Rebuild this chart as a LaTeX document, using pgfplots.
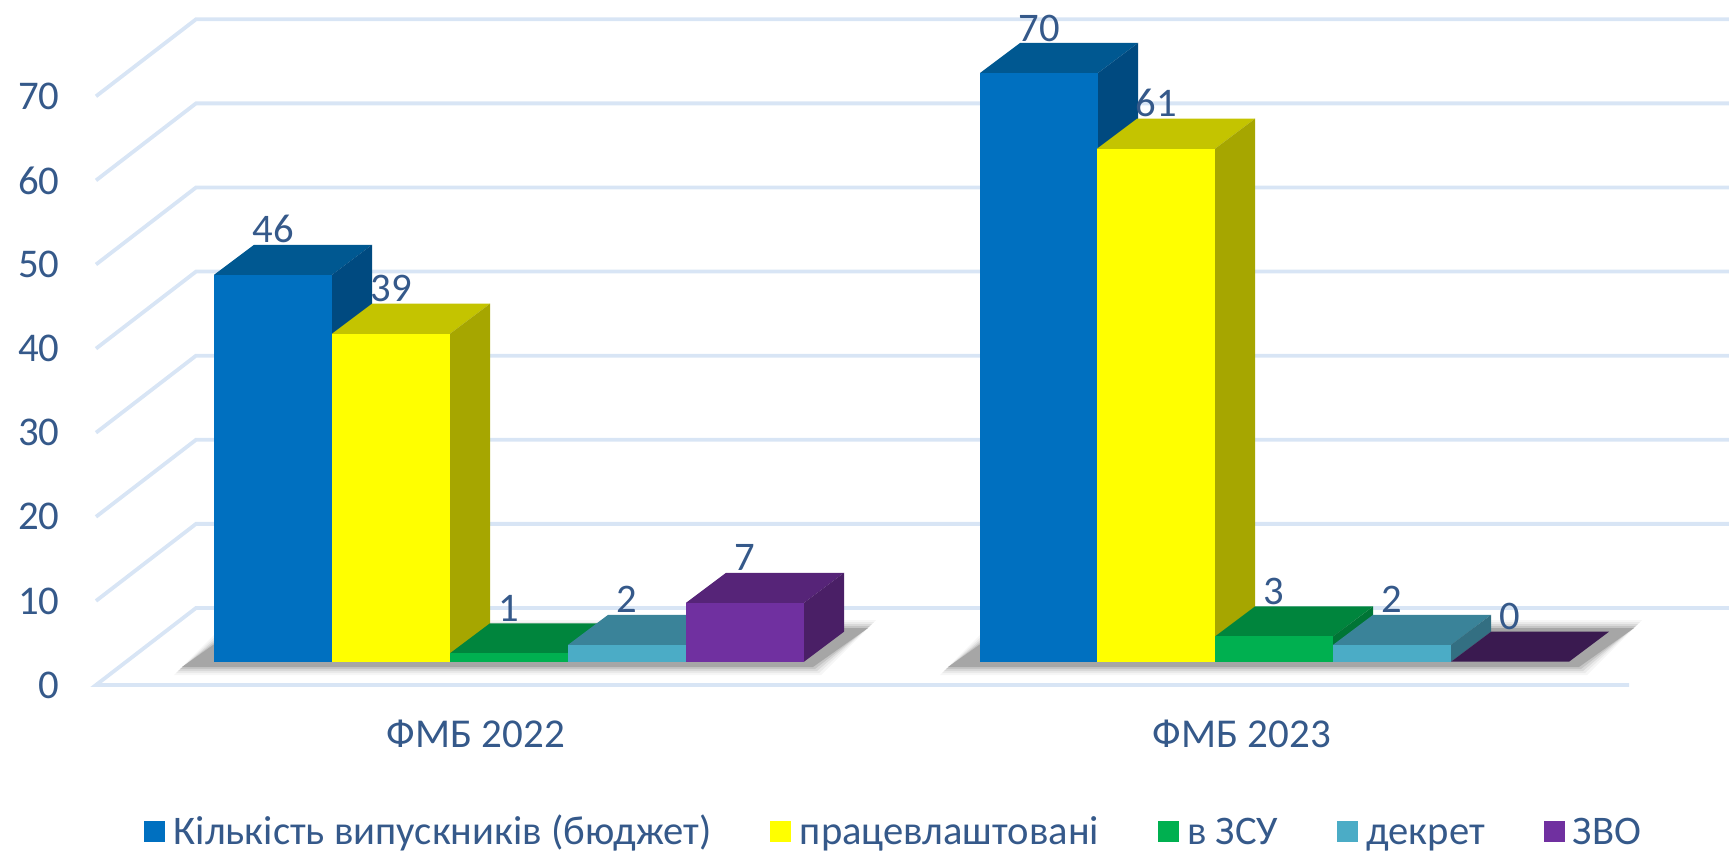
\documentclass[border=0pt]{standalone}
\usepackage{pgfplots}
\pgfplotsset{compat=1.18}
\usepackage{fontspec}
\setmainfont{Carlito}
\definecolor{txt}{HTML}{35598A}
\definecolor{gridc}{HTML}{D8E5F5}
\definecolor{shad}{HTML}{A6A6A6}
\definecolor{bluF}{HTML}{0070C0}\definecolor{bluT}{HTML}{005891}\definecolor{bluS}{HTML}{004A80}
\definecolor{yelF}{HTML}{FFFF00}\definecolor{yelT}{HTML}{C4C400}\definecolor{yelS}{HTML}{A6A600}
\definecolor{greF}{HTML}{00B050}\definecolor{greT}{HTML}{00853D}\definecolor{greS}{HTML}{007535}
\definecolor{teaF}{HTML}{4BACC6}\definecolor{teaT}{HTML}{3A8399}\definecolor{teaS}{HTML}{336F82}
\definecolor{purF}{HTML}{7030A0}\definecolor{purT}{HTML}{562478}\definecolor{purS}{HTML}{4A1F66}
\definecolor{zero}{HTML}{3A1A50}
\newcommand{\lstrut}{\rule[-4.3pt]{0pt}{19pt}}
% #1 left x of the front face, #2 value, #3 colour stem
\newcommand{\threebar}[3]{%
  \pgfmathsetmacro{\xa}{#1}\pgfmathsetmacro{\xb}{#1+118}\pgfmathsetmacro{\xc}{#1+40}\pgfmathsetmacro{\xd}{#1+158}
  \pgfmathsetmacro{\yb}{#2+3.567}\pgfmathsetmacro{\yc}{max(#2-0.15,0)}
  \addplot[fill=#3T,draw=none,forget plot] coordinates {(\xa,\yc)(\xa,#2)(\xc,\yb)(\xd,\yb)(\xb,#2)(\xb,\yc)};
  \addplot[fill=#3S,draw=none,forget plot] coordinates {(\xb,0)(\xd,3.567)(\xd,\yb)(\xb,#2)};
  \addplot[fill=#3F,draw=none,forget plot] coordinates {(\xa,0)(\xa,#2)(\xb,#2)(\xb,0)};
}
\newcommand{\shadowlayer}[3]{% #1 bar start, #2 expansion px, #3 opacity
  \pgfmathsetmacro{\sa}{#1-33-#2}\pgfmathsetmacro{\sb}{#1+600+#2}
  \pgfmathsetmacro{\sc}{#1+22-#2}\pgfmathsetmacro{\sd}{#1+655+#2}
  \pgfmathsetmacro{\sy}{-0.75-#2/8.41}\pgfmathsetmacro{\sz}{4.12+#2/8.41}
  \addplot[fill=shad,fill opacity=#3,draw=none,forget plot] coordinates {(\sa,\sy)(\sc,\sz)(\sd,\sz)(\sb,\sy)};
}
\newcommand{\shadow}[1]{%
  \shadowlayer{#1}{7}{0.10}\shadowlayer{#1}{5}{0.15}\shadowlayer{#1}{3}{0.25}\shadowlayer{#1}{1}{0.4}\shadowlayer{#1}{-1}{1}%
}
\begin{document}
\begin{tikzpicture}
\begin{axis}[
  x=0.5pt, y=4.205pt,
  xmin=60, xmax=1729, ymin=-2.77, ymax=78.68,
  clip=false,
  axis line style={draw=none},
  major tick length=0pt,
  ytick={-2.77,7.23,17.23,27.23,37.23,47.23,57.23,67.23},
  yticklabels={0,10,20,30,40,50,60,70},
  xtick={476,1242},
  xticklabels={ФМБ 2022,ФМБ 2023},
  yticklabel style={anchor=east,inner sep=0pt,font=\fontsize{20.4}{24}\selectfont,text=txt},
  xticklabel style={anchor=center,inner sep=0pt,yshift=-24.5pt,font=\fontsize{20.5}{24}\selectfont,text=txt},
  legend columns=5,
  legend image code/.code={\fill[#1] (0pt,-5pt) rectangle (10pt,5pt);\path[draw=none] (0pt,0pt) -- (12.5pt,0pt);},
  legend style={at={(0.0503,-0.214)},anchor=west,draw=none,fill=none,inner sep=0pt,
    font=\fontsize{20.3}{24}\selectfont,text=txt,
    /tikz/every even column/.append style={column sep=27.4pt}},
  legend cell align=left,
]
% grid: front ends, back wall
\addplot[gridc,line width=1.9pt,forget plot] coordinates {(1629,-2.77)(96,-2.77)(196,6.386)(1729,6.386)};
\addplot[gridc,line width=1.9pt,forget plot] coordinates {(96,7.23)(196,16.386)(1729,16.386)};
\addplot[gridc,line width=1.9pt,forget plot] coordinates {(96,17.23)(196,26.386)(1729,26.386)};
\addplot[gridc,line width=1.9pt,forget plot] coordinates {(96,27.23)(196,36.386)(1729,36.386)};
\addplot[gridc,line width=1.9pt,forget plot] coordinates {(96,37.23)(196,46.386)(1729,46.386)};
\addplot[gridc,line width=1.9pt,forget plot] coordinates {(96,47.23)(196,56.386)(1729,56.386)};
\addplot[gridc,line width=1.9pt,forget plot] coordinates {(96,57.23)(196,66.386)(1729,66.386)};
\addplot[gridc,line width=1.9pt,forget plot] coordinates {(96,67.23)(196,76.386)(1729,76.386)};
% floor shadows
\shadow{214}
\shadow{980}
% ФМБ 2022
\threebar{214}{46}{blu}
\threebar{332}{39}{yel}
\threebar{450}{1}{gre}
\threebar{568}{2}{tea}
\threebar{686}{7}{pur}
% ФМБ 2023
\threebar{980}{70}{blu}
\threebar{1097}{61}{yel}
\threebar{1215}{3}{gre}
\threebar{1333}{2}{tea}
\addplot[fill=zero,draw=none,forget plot] coordinates {(1451,0)(1491,3.567)(1609,3.567)(1569,0)};
% value labels
\addplot[draw=none,forget plot,point meta=explicit symbolic,
  nodes near coords={\pgfplotspointmeta},
  every node near coord/.append style={anchor=base,inner sep=0pt,font=\fontsize{20.3}{24}\selectfont,text=txt}]
  coordinates {(273,49.8)[46] (391,42.8)[39] (509,4.8)[1] (627,5.8)[2] (745,10.8)[7]
               (1039,73.8)[70] (1156,64.8)[61] (1274,6.8)[3] (1392,5.8)[2] (1510,3.8)[0]};
\addlegendimage{bluF}\addlegendentry{\lstrut Кількість випускників (бюджет)}
\addlegendimage{yelF}\addlegendentry{\lstrut працевлаштовані}
\addlegendimage{greF}\addlegendentry{\lstrut в ЗСУ}
\addlegendimage{teaF}\addlegendentry{\lstrut декрет}
\addlegendimage{purF}\addlegendentry{\lstrut ЗВО}
\coordinate (A) at (axis cs:0,-22.63);
\coordinate (B) at (axis cs:1729,78.68);
\end{axis}
\pgfresetboundingbox
\useasboundingbox (A) rectangle (B);
\end{tikzpicture}
\end{document}
